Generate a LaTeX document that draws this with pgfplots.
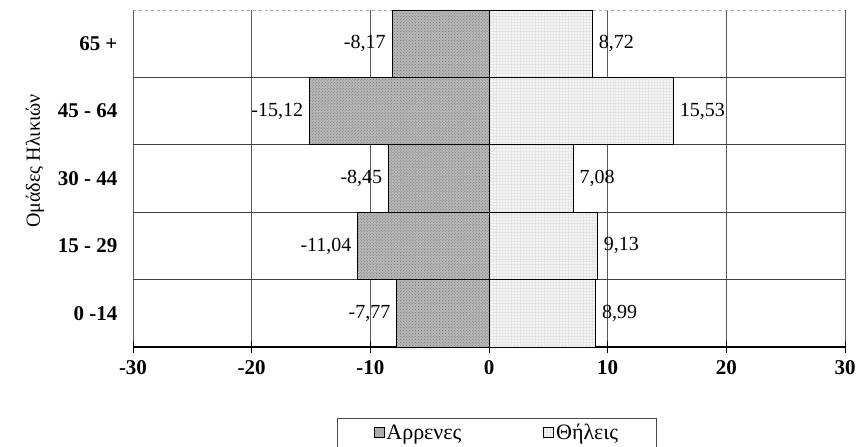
\documentclass[border=0pt]{standalone}
\usepackage{pgfplots}
\pgfplotsset{compat=1.18}
\usepackage{fontspec}
\setmainfont{Liberation Serif}
\usetikzlibrary{patterns}
\begin{document}
\begin{tikzpicture}
\begin{axis}[
  at={(0,0)}, anchor=south west,
  scale only axis, width=712bp, height=337bp,
  xbar, bar width=1, bar shift=0pt,
  xmin=-30, xmax=30, ymin=-0.5, ymax=4.5,
  xtick={-30,-20,...,30},
  ytick={0,1,2,3,4},
  yticklabels={0 -14, 15 - 29, 30 - 44, 45 - 64, 65 +},
  minor ytick={0.5,1.5,2.5,3.5},
  yminorgrids=true, xmajorgrids=true,
  grid style={black!65, line width=0.8pt},
  minor grid style={black!75, line width=0.9pt},
  extra y ticks={4.5}, extra y tick labels={},
  extra y tick style={grid=major, major grid style={black!35, dashed, line width=0.8pt}},
  extra x ticks={0}, extra x tick labels={},
  extra x tick style={grid=major, major grid style={black, line width=1.6pt}},
  axis x line*=bottom, axis y line*=left,
  x axis line style={line width=1.6pt, -},
  y axis line style={draw=none},
  ytick style={draw=none},
  xtick style={black, line width=1pt},
  tick align=center, major tick length=12bp,
  /pgf/number format/assume math mode=true,
  xticklabel style={font=\fontsize{21bp}{24bp}\selectfont\bfseries, yshift=-4bp},
  yticklabel style={font=\fontsize{21bp}{22bp}\selectfont\bfseries, xshift=-6bp},
  ylabel={Ομάδες Ηλικιών},
  ylabel style={at={(rel axis cs:-0.1376,0.552)}, anchor=center, font=\fontsize{20bp}{24bp}\selectfont},
  nodes near coords,
  nodes near coords style={font=\fontsize{20bp}{22bp}\selectfont, inner xsep=6bp, text=black,
    /pgf/number format/.cd, use comma, fixed, fixed zerofill, precision=2},
  legend columns=2,
  legend image code/.code={\draw[#1, line width=0.8pt] (0bp,-5bp) rectangle (10bp,5bp);},
  legend style={at={(rel axis cs:0.511,-0.2107)}, anchor=north, draw=black!70,
    font=\fontsize{22bp}{24bp}\selectfont, inner xsep=36bp, inner ysep=4bp,
    /tikz/every even column/.append style={column sep=80bp}},
]
\addplot[xbar, bar width=1, bar shift=0pt, fill=black!28, draw=black, line width=1pt,
  postaction={pattern=crosshatch dots, pattern color=black!55}]
  coordinates {(-7.77,0) (-11.04,1) (-8.45,2) (-15.12,3) (-8.17,4)};
\addplot[xbar, bar width=1, bar shift=0pt, fill=black!4, draw=black, line width=1pt,
  postaction={pattern=grid, pattern color=black!10}]
  coordinates {(8.99,0) (9.13,1) (7.08,2) (15.53,3) (8.72,4)};
\legend{Αρρενες, Θήλεις}
\end{axis}
\pgfresetboundingbox
\path[use as bounding box] (-133bp,-100bp) rectangle (725bp,347bp);
\end{tikzpicture}
\end{document}
